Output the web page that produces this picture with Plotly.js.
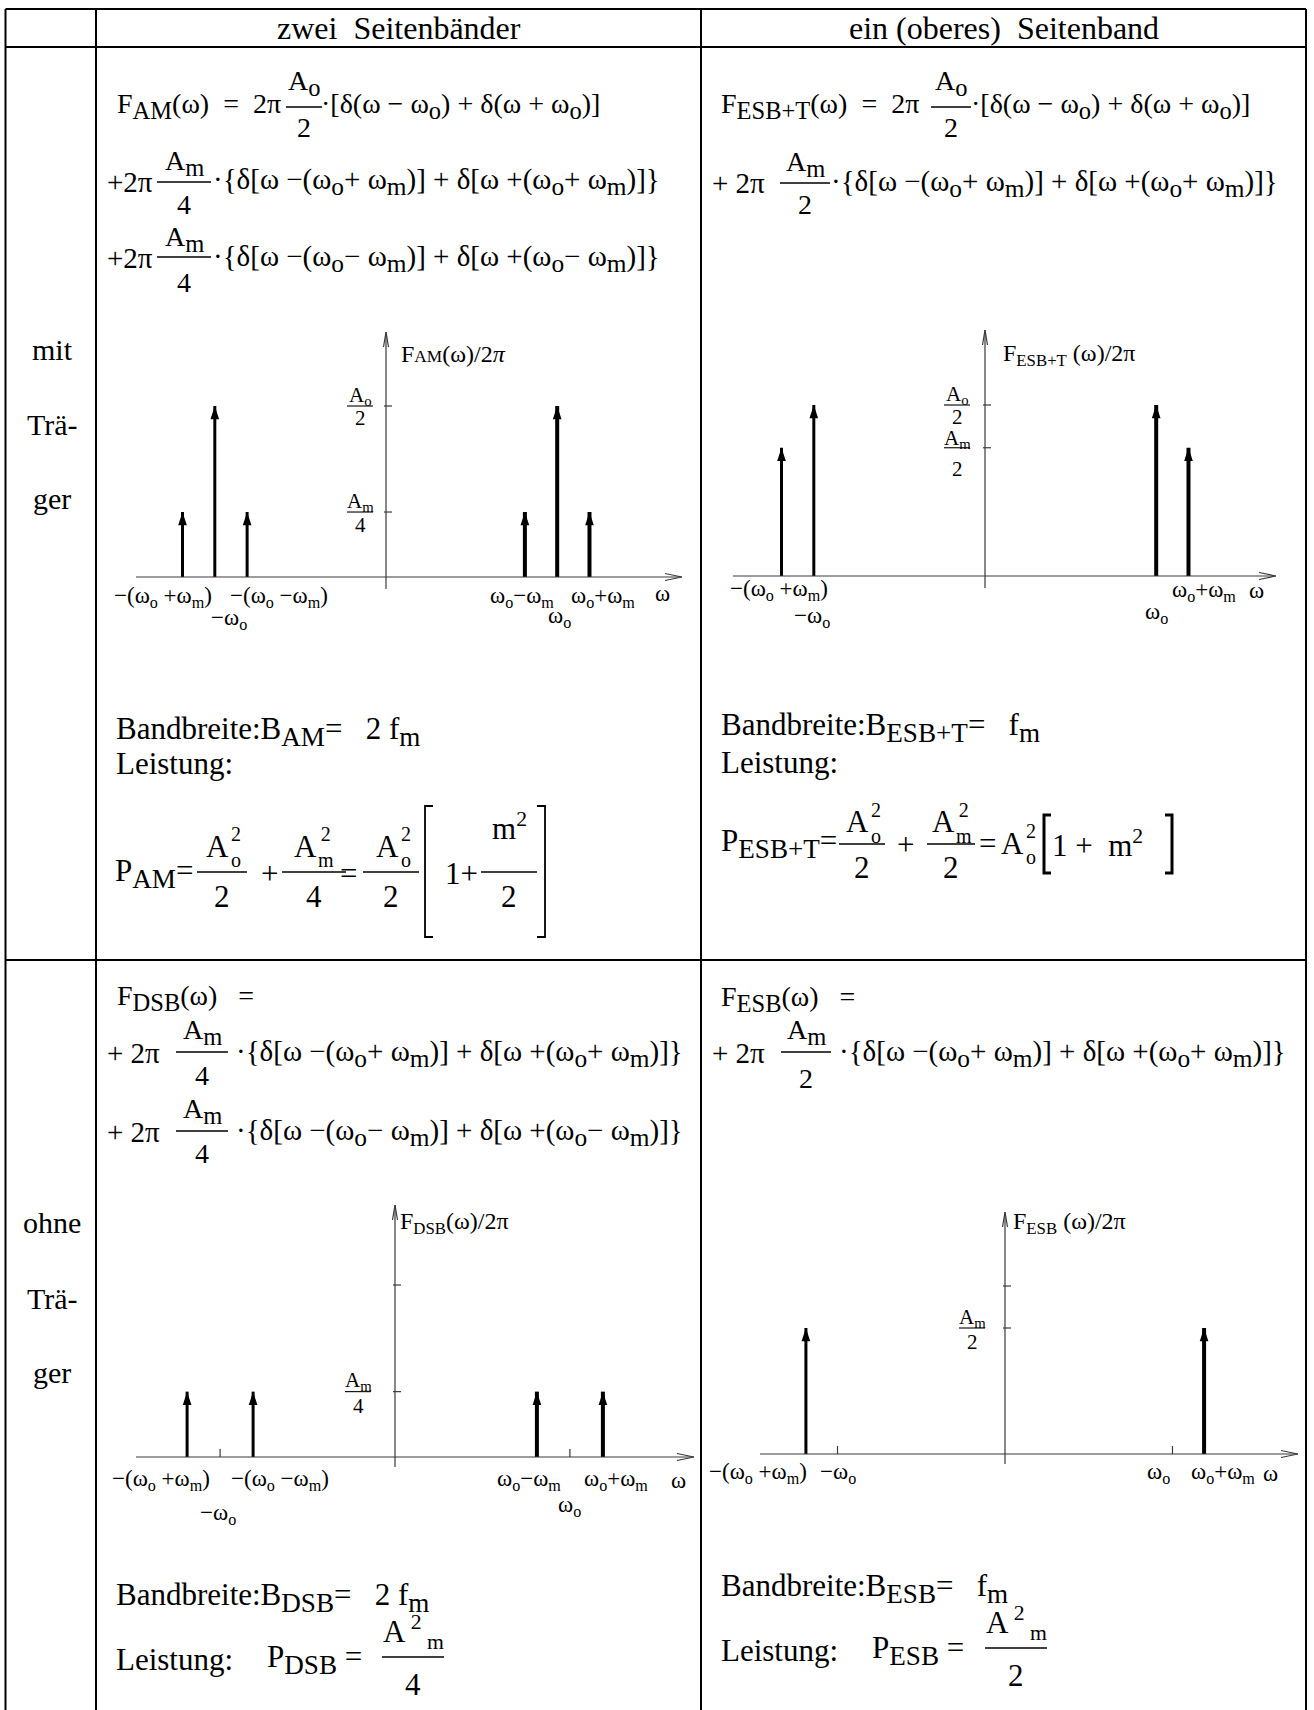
<!DOCTYPE html>
<html>
<head>
<meta charset="utf-8">
<script src="https://cdn.plot.ly/plotly-3.0.1.min.js"></script>
<style>
html,body{margin:0;padding:0;background:#fff;}
#chart{width:1314px;height:1710px;}
</style>
</head>
<body>
<div id="chart"></div>
<script>
// ================= DATA =================
const columnHeaders = ['zwei\u00A0 Seitenbänder', 'ein (oberes)\u00A0 Seitenband'];
const rowLabelsTop = ['mit', 'Trä-', 'ger'];
const rowLabelsBottom = ['ohne', 'Trä-', 'ger'];

// spectral lines: frequency in units of ω_m (ω_o ≈ 5.3 ω_m), amplitude relative to A_o/2
const amFreq   = [-6.3, -5.3, -4.3, 4.3, 5.3, 6.3];
const amAmp    = [0.38, 1.0, 0.38, 0.38, 1.0, 0.38];
const esbtFreq = [-6.3, -5.3, 5.3, 6.3];
const esbtAmp  = [0.75, 1.0, 1.0, 0.75];
const dsbFreq  = [-6.3, -4.3, 4.3, 6.3];
const dsbAmp   = [0.38, 0.38, 0.38, 0.38];
const esbFreq  = [-6.3, 6.3];
const esbAmp   = [0.75, 0.75];

// y-axis ticks (values) and their fraction labels
const amTickVals   = [1.0, 0.38];
const amTickNum    = ['A<sub>o</sub>', 'A<sub>m</sub>'];
const amTickDen    = ['2', '4'];
const esbtTickVals = [1.0, 0.75];
const esbtTickNum  = ['A<sub>o</sub>', 'A<sub>m</sub>'];
const esbtTickDen  = ['2', '2'];
const dsbTickVals  = [1.0, 0.38];
const dsbTickNum   = ['', 'A<sub>m</sub>'];
const dsbTickDen   = ['', '4'];
const esbTickVals  = [1.0, 0.75];
const esbTickNum   = ['', 'A<sub>m</sub>'];
const esbTickDen   = ['', '2'];

// x-axis labels
const amLabelFreq = [-6.3, -5.3, -4.3, 4.3, 5.3, 6.3];
const amLabelText = ['−(ω<sub>o</sub> +ω<sub>m</sub>)', '−ω<sub>o</sub>', '−(ω<sub>o</sub> −ω<sub>m</sub>)',
                     'ω<sub>o</sub>−ω<sub>m</sub>', 'ω<sub>o</sub>', 'ω<sub>o</sub>+ω<sub>m</sub>'];
const esbtLabelFreq = [-6.3, -5.3, 5.3, 6.3];
const esbtLabelText = ['−(ω<sub>o</sub> +ω<sub>m</sub>)', '−ω<sub>o</sub>', 'ω<sub>o</sub>', 'ω<sub>o</sub>+ω<sub>m</sub>'];
const dsbLabelFreq = [-6.3, -5.3, -4.3, 4.3, 5.3, 6.3];
const dsbLabelText = amLabelText;
const esbLabelFreq = [-6.3, -5.3, 5.3, 6.3];
const esbLabelText = ['−(ω<sub>o</sub> +ω<sub>m</sub>)', '−ω<sub>o</sub>', 'ω<sub>o</sub>', 'ω<sub>o</sub>+ω<sub>m</sub>'];
const dsbMinorX = [-5.3, 5.3];
const esbMinorX = [-5.3, 5.3];

// ================= LAYOUT HELPERS =================
const W = 1314, H = 1710;
const SERIF = 'Liberation Serif, Times New Roman, serif';
const BLACK = '#000';
const AXIS = '#3a3a3a';
const annotations = [], shapes = [], traces = [];
const layout = {
  width: W, height: H, margin: {l:0, r:0, t:0, b:0, pad:0},
  paper_bgcolor: '#fff', plot_bgcolor: 'rgba(0,0,0,0)',
  showlegend: false, hovermode: false,
  font: {family: SERIF, color: BLACK}
};
const px = x => x / W, py = y => 1 - y / H;
const sb = s => `<sub><span style="font-size:125%">${s}</span></sub>`;
const NB = '\u00A0';

function T(x, y, text, size, anchor) {
  annotations.push({xref:'paper', yref:'paper', x:px(x), y:py(y), text:text, showarrow:false,
    xanchor: anchor || 'left', yanchor:'middle', borderpad:0,
    font:{family:SERIF, size:size, color:BLACK}});
}
function HL(x0, x1, y, w) {
  shapes.push({type:'line', xref:'paper', yref:'paper', x0:px(x0), x1:px(x1), y0:py(y), y1:py(y),
    line:{color:BLACK, width:w || 1.3}});
}
function VL(x, y0, y1, w) {
  shapes.push({type:'line', xref:'paper', yref:'paper', x0:px(x), x1:px(x), y0:py(y0), y1:py(y1),
    line:{color:BLACK, width:w || 1.3}});
}
function frac(cx, by, num, den, size, w, up, down) {
  if (typeof num === 'string') T(cx, by - up, num, size, 'center'); else num(by - up);
  T(cx, by + down, den, size, 'center');
  HL(cx - w / 2, cx + w / 2, by, 1.3);
}
// A with stacked superscript 2 and subscript letter
function asq(cx, cy, low, size) {
  const stackW = (low === 'm' ? 0.778 : 0.5) * 0.66 * size;
  const aW = 0.722 * size;
  const left = cx - (aW + stackW) / 2;
  T(left + aW / 2, cy, 'A', size, 'center');
  annotations.push({xref:'paper', yref:'paper', x:px(left + aW + 0.5), y:py(cy + 1), text:'2<br>' + low,
    showarrow:false, xanchor:'left', yanchor:'middle', borderpad:0,
    font:{family:SERIF, size:Math.round(size * 0.66), color:BLACK}});
}
function bracket(x, y0, y1, dir, w, s0) {
  // dir = 1 for "[", -1 for "]"
  const s = (s0 || 8) * dir;
  shapes.push({type:'path', xref:'paper', yref:'paper',
    path:`M${px(x + s)},${py(y0)} L${px(x)},${py(y0)} L${px(x)},${py(y1)} L${px(x + s)},${py(y1)}`,
    line:{color:BLACK, width:w || 1.8}});
}

// ================= TABLE =================
[5.5, 96, 701, 1306].forEach(x => VL(x, 9, 1710, 2));
[9, 47, 960].forEach(y => HL(5.5, 1306, y, 2));
T(398.5, 28, columnHeaders[0], 32, 'center');
T(1003.5, 28, columnHeaders[1], 32, 'center');
[349, 425, 499].forEach((y, i) => T(52, y, rowLabelsTop[i], 30, 'center'));
[1222, 1298, 1372].forEach((y, i) => T(52, y, rowLabelsBottom[i], 30, 'center'));

// ================= FORMULAS =================
const FS = 28, FS2 = 29;
const segL1 = '·[δ(ω − ω' + sb('o') + ') + δ(ω + ω' + sb('o') + ')]';
const segPlus = '·{δ[ω −(ω' + sb('o') + '+ ω' + sb('m') + ')] + δ[ω +(ω' + sb('o') + '+ ω' + sb('m') + ')]}';
const segMinus = '·{δ[ω −(ω' + sb('o') + '− ω' + sb('m') + ')] + δ[ω +(ω' + sb('o') + '− ω' + sb('m') + ')]}';
const Ao = 'A' + sb('o'), Am = 'A' + sb('m');

// top-left (AM)
T(116, 106, 'F' + sb('AM') + '(ω)' + NB + ' =' + NB + ' 2π', FS);
frac(304, 107, Ao, '2', FS, 36, 24, 21);
T(320, 106, segL1, FS);
T(106, 182, '+2π', FS2);
frac(184, 182, Am, '4', FS, 54, 19, 23);
T(212, 182, segPlus, FS2);
T(106, 258, '+2π', FS2);
frac(184, 257, Am, '4', FS, 54, 18, 25);
T(212, 258, segMinus, FS2);

// top-right (ESB+T)
T(720, 106, 'F' + sb('ESB+T') + '(ω)' + NB + ' =' + NB + ' 2π', FS);
frac(951, 107, Ao, '2', FS, 40, 24, 21);
T(970, 106, segL1, FS);
T(711, 183, '+ 2π', FS2);
frac(805, 183, Am, '2', FS, 50, 19, 22);
T(830, 183, segPlus, FS2);

// bottom-left (DSB)
T(116, 998, 'F' + sb('DSB') + '(ω)' + NB + NB + ' =', FS);
T(106, 1053, '+ 2π', FS2);
frac(202, 1052, Am, '4', FS, 52, 20, 23);
T(235, 1053, segPlus, FS2);
T(106, 1132, '+ 2π', FS2);
frac(202, 1131, Am, '4', FS, 52, 20, 22);
T(235, 1132, segMinus, FS2);

// bottom-right (ESB)
T(720, 999, 'F' + sb('ESB') + '(ω)' + NB + NB + ' =', FS);
T(711, 1053, '+ 2π', FS2);
frac(806, 1052, Am, '2', FS, 50, 20, 26);
T(838, 1053, segPlus, FS2);

// ================= BANDWIDTH / POWER =================
const BS = 31;
// top-left
T(115, 731, 'Bandbreite:B' + sb('AM') + '=' + NB + NB + ' 2 f' + sb('m'), BS);
T(115, 763, 'Leistung:', BS);
T(114, 873, 'P' + sb('AM') + '=', BS);
frac(222, 872, yy => asq(223, yy, 'o', BS), '2', BS, 50, 26, 25);
T(269, 873, '+', BS, 'center');
frac(314, 872, yy => asq(313, yy, 'm', BS), '4', BS, 64, 26, 25);
T(348, 873, '=', BS, 'center');
frac(391, 872, yy => asq(393, yy, 'o', BS), '2', BS, 56, 26, 25);
bracket(425, 806, 937, 1, 1.8);
T(444, 873, '1+', BS);
frac(509, 872, 'm<sup>2</sup>', '2', BS, 56, 46, 25);
bracket(545, 806, 937, -1, 1.8);

// top-right
T(720, 727, 'Bandbreite:B' + sb('ESB+T') + '=' + NB + NB + ' f' + sb('m'), BS);
T(720, 762, 'Leistung:', BS);
T(720, 843, 'P' + sb('ESB+T') + '=', BS);
frac(862, 844, yy => asq(863, yy, 'o', BS), '2', BS, 46, 22, 23);
T(905, 844, '+', BS, 'center');
frac(951, 844, yy => asq(951, yy, 'm', BS), '2', BS, 48, 22, 23);
T(978, 843, '=', BS);
asq(1018, 843, 'o', BS);
bracket(1044, 815, 873, 1, 3, 7);
T(1051, 843, '1' + NB + '+' + NB + ' m<sup>2</sup>', BS);
bracket(1172, 815, 873, -1, 3, 7);

// bottom-left
T(115, 1597, 'Bandbreite:B' + sb('DSB') + '=' + NB + NB + ' 2 f' + sb('m'), BS);
T(115, 1659, 'Leistung:', BS);
T(266, 1659, 'P' + sb('DSB') + ' =', BS);
frac(413, 1657, 'A<sup> 2</sup><sub> m</sub>', '4', BS, 62, 25, 27);

// bottom-right
T(720, 1588, 'Bandbreite:B' + sb('ESB') + '=' + NB + NB + ' f' + sb('m'), BS);
T(720, 1650, 'Leistung:', BS);
T(871, 1650, 'P' + sb('ESB') + ' =', BS);
frac(1016, 1648, 'A<sup> 2</sup><sub> m</sub>', '2', BS, 62, 25, 27);

// ================= SPECTRA =================
const geom = [
  {ox:386,  oy:577,  sx:32.3, sy:171, xL:136, xR:682,  yT:332,  yB:589},
  {ox:985,  oy:576,  sx:32.3, sy:171, xL:733, xR:1276, yT:330,  yB:588},
  {ox:395,  oy:1457, sx:33.0, sy:172, xL:136, xR:694,  yT:1205, yB:1467},
  {ox:1005, oy:1454, sx:31.6, sy:168, xL:760, xR:1298, yT:1212, yB:1464}
];
const spectra = [
  {freq:amFreq, amp:amAmp, tv:amTickVals, tn:amTickNum, td:amTickDen, lf:amLabelFreq, lt:amLabelText, minor:[]},
  {freq:esbtFreq, amp:esbtAmp, tv:esbtTickVals, tn:esbtTickNum, td:esbtTickDen, lf:esbtLabelFreq, lt:esbtLabelText, minor:[]},
  {freq:dsbFreq, amp:dsbAmp, tv:dsbTickVals, tn:dsbTickNum, td:dsbTickDen, lf:dsbLabelFreq, lt:dsbLabelText, minor:dsbMinorX},
  {freq:esbFreq, amp:esbAmp, tv:esbTickVals, tn:esbTickNum, td:esbTickDen, lf:esbLabelFreq, lt:esbLabelText, minor:esbMinorX}
];
// placement (pixel offsets) of labels
const labelStyle = [
  {dx:[-20, 14, 32, -3, 2, 14], dy:[20, 42, 20, 20, 40, 20], wdx:-20, wdy:16,
   tdx:[-26, -26], tup:[10, 10], tdn:[12, 13],
   title:'F<span style="font-size:72%">AM</span>(ω)/2<i>π</i>', tx:400, ty:354},
  {dx:[-3, -2, 0, 16], dy:[14, 41, 37, 15], wdx:-20, wdy:15,
   tdx:[-28, -28], tup:[10, 9], tdn:[12, 21],
   title:'F<sub>ESB+T</sub> (ω)/2π', tx:1002, ty:355},
  {dx:[-26, -2, 27, -8, 0, 13], dy:[23, 57, 23, 23, 49, 23], wdx:-16, wdy:23,
   tdx:[0, -37], tup:[0, 11], tdn:[0, 14],
   title:'F<sub>DSB</sub>(ω)/2π', tx:399, ty:1223},
  {dx:[-48, 0, -14, 19], dy:[19, 19, 19, 19], wdx:-28, wdy:19,
   tdx:[0, -33], tup:[0, 10], tdn:[0, 14],
   title:'F<sub>ESB</sub> (ω)/2π', tx:1012, ty:1223}
];

spectra.forEach((s, i) => {
  const k = i + 1, g = geom[i], st = labelStyle[i];
  const xr = k === 1 ? 'x' : 'x' + k, yr = k === 1 ? 'y' : 'y' + k;
  const xa = k === 1 ? 'xaxis' : 'xaxis' + k, ya = k === 1 ? 'yaxis' : 'yaxis' + k;
  const xRange = [(g.xL - g.ox) / g.sx, (g.xR - g.ox) / g.sx];
  const yRange = [(g.oy - g.yB) / g.sy, (g.oy - g.yT) / g.sy];
  layout[xa] = {domain:[g.xL / W, g.xR / W], range:xRange, visible:false, fixedrange:true, anchor:yr};
  layout[ya] = {domain:[1 - g.yB / H, 1 - g.yT / H], range:yRange, visible:false, fixedrange:true, anchor:xr};
  const L = {color:AXIS, width:1.2};
  shapes.push({type:'line', xref:xr, yref:yr, x0:xRange[0], x1:xRange[1], y0:0, y1:0, line:L});
  shapes.push({type:'line', xref:xr, yref:yr, x0:0, x1:0, y0:yRange[0], y1:yRange[1], line:L});
  shapes.push({type:'path', xref:xr, yref:yr, xsizemode:'pixel', ysizemode:'pixel', xanchor:xRange[1], yanchor:0,
    path:'M-17,3.5L0,0L-17,-3.5', line:L});
  shapes.push({type:'path', xref:xr, yref:yr, xsizemode:'pixel', ysizemode:'pixel', xanchor:0, yanchor:yRange[1],
    path:'M-2.5,-15L0,0L2.5,-15', line:L});
  s.tv.forEach(v => shapes.push({type:'line', xref:xr, yref:yr, xsizemode:'pixel', xanchor:0, x0:-2, x1:6, y0:v, y1:v, line:L}));
  s.minor.forEach(f => shapes.push({type:'line', xref:xr, yref:yr, ysizemode:'pixel', yanchor:0, x0:f, x1:f, y0:0, y1:8, line:L}));

  // stems (negative side thinner, as in the original)
  [[f => f < 0, 3], [f => f > 0, 4]].forEach(([sel, w]) => {
    const xs = [], ys = [];
    s.freq.forEach((f, j) => { if (sel(f)) { xs.push(f, f, null); ys.push(0, s.amp[j], null); } });
    traces.push({type:'scatter', mode:'lines', x:xs, y:ys, xaxis:xr, yaxis:yr,
      line:{color:BLACK, width:w}, hoverinfo:'skip', showlegend:false});
  });
  traces.push({type:'scatter', mode:'markers', x:s.freq, y:s.amp, xaxis:xr, yaxis:yr,
    marker:{symbol:'arrow', size:14, color:BLACK, line:{width:0}}, hoverinfo:'skip', showlegend:false, cliponaxis:false});

  // x labels
  s.lf.forEach((f, j) => annotations.push({xref:xr, yref:yr, x:f, y:0, xshift:st.dx[j], yshift:-st.dy[j],
    text:s.lt[j], showarrow:false, xanchor:'center', yanchor:'middle', borderpad:0,
    font:{family:SERIF, size:23, color:BLACK}}));
  annotations.push({xref:xr, yref:yr, x:xRange[1], y:0, xshift:st.wdx, yshift:-st.wdy, text:'ω', showarrow:false,
    xanchor:'center', yanchor:'middle', borderpad:0, font:{family:SERIF, size:23, color:BLACK}});

  // y tick fraction labels
  s.tv.forEach((v, j) => {
    if (!s.tn[j]) return;
    annotations.push({xref:xr, yref:yr, x:0, y:v, xshift:st.tdx[j], yshift:st.tup[j], text:s.tn[j], showarrow:false,
      xanchor:'center', yanchor:'middle', borderpad:0, font:{family:SERIF, size:21, color:BLACK}});
    annotations.push({xref:xr, yref:yr, x:0, y:v, xshift:st.tdx[j], yshift:-st.tdn[j], text:s.td[j], showarrow:false,
      xanchor:'center', yanchor:'middle', borderpad:0, font:{family:SERIF, size:21, color:BLACK}});
    shapes.push({type:'line', xref:xr, yref:yr, xsizemode:'pixel', xanchor:0, x0:st.tdx[j] - 13, x1:st.tdx[j] + 13,
      y0:v, y1:v, line:{color:BLACK, width:1.1}});
  });

  // axis title
  T(st.tx, st.ty, st.title, 24, 'left');
});

layout.annotations = annotations;
layout.shapes = shapes;
Plotly.newPlot('chart', traces, layout, {staticPlot:true, displayModeBar:false});
</script>
</body>
</html>
